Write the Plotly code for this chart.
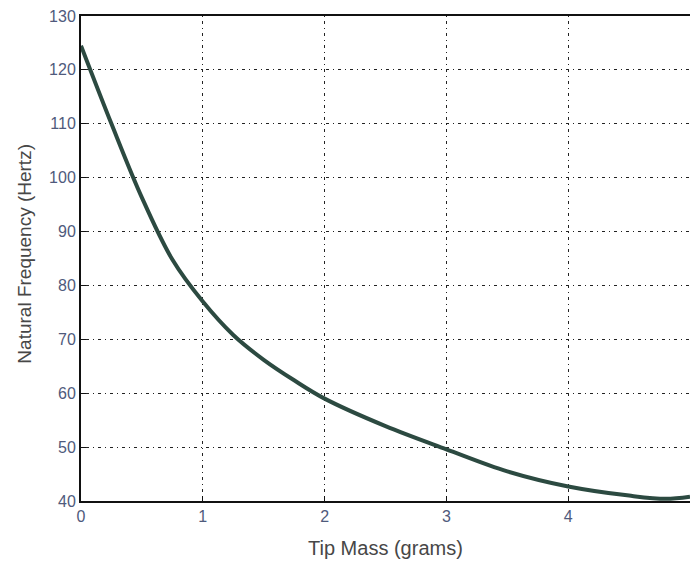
import plotly.graph_objects as go

tip_mass = [0.0, 0.25, 0.5, 0.75, 1.0, 1.25, 1.5, 1.75, 2.0, 2.5, 3.0, 3.5, 4.0, 4.5, 4.8, 5.0]
frequency = [124.5, 110.0, 96.3, 84.8, 77.0, 70.8, 66.2, 62.4, 59.0, 53.9, 49.6, 45.5, 42.7, 41.0, 40.4, 40.8]

x_ticks = [0, 1, 2, 3, 4, 5]
y_ticks = [40, 50, 60, 70, 80, 90, 100, 110, 120, 130]

x_title = "Tip Mass (grams)"
y_title = "Natural Frequency (Hertz)"

FONT = "Liberation Sans, Arial, sans-serif"
TICK_COLOR = "#4f5a7c"
TITLE_COLOR = "#474747"

fig = go.Figure()
fig.add_trace(go.Scatter(
    x=tip_mass, y=frequency, mode="lines",
    line=dict(color="#2c4a41", width=4, shape="spline", smoothing=1.0),
    showlegend=False,
))

grid = dict(showgrid=True, gridcolor="#222222", gridwidth=1, griddash="1px,4px,3px,4px")

fig.update_layout(
    width=690, height=565,
    margin=dict(l=81, r=0, t=16, b=64),
    paper_bgcolor="white", plot_bgcolor="white",
    template="none",
    xaxis=dict(range=[0, 5], tickvals=x_ticks, ticktext=[str(v) for v in x_ticks],
               showline=True, linecolor="#111111", linewidth=2, mirror=True,
               ticks="inside", ticklen=5, tickcolor="#111111",
               tickfont=dict(family=FONT, size=16, color=TICK_COLOR),
               automargin=False, zeroline=False, **grid),
    yaxis=dict(range=[40, 130], tickvals=y_ticks, ticktext=[str(v) for v in y_ticks],
               showline=True, linecolor="#111111", linewidth=2,
               ticks="inside", ticklen=5, tickcolor="#111111",
               tickfont=dict(family=FONT, size=16, color=TICK_COLOR),
               automargin=False, zeroline=False, **grid),
    annotations=[
        dict(text=x_title, xref="paper", yref="paper", x=0.5, y=0, yshift=-47,
             showarrow=False, xanchor="center", yanchor="middle",
             font=dict(family=FONT, size=20, color=TITLE_COLOR)),
        dict(text=y_title, xref="paper", yref="paper", x=0, y=0.51, xshift=-56,
             showarrow=False, textangle=-90, xanchor="center", yanchor="middle",
             font=dict(family=FONT, size=19, color=TITLE_COLOR)),
    ],
)

fig.write_html("out.html")
